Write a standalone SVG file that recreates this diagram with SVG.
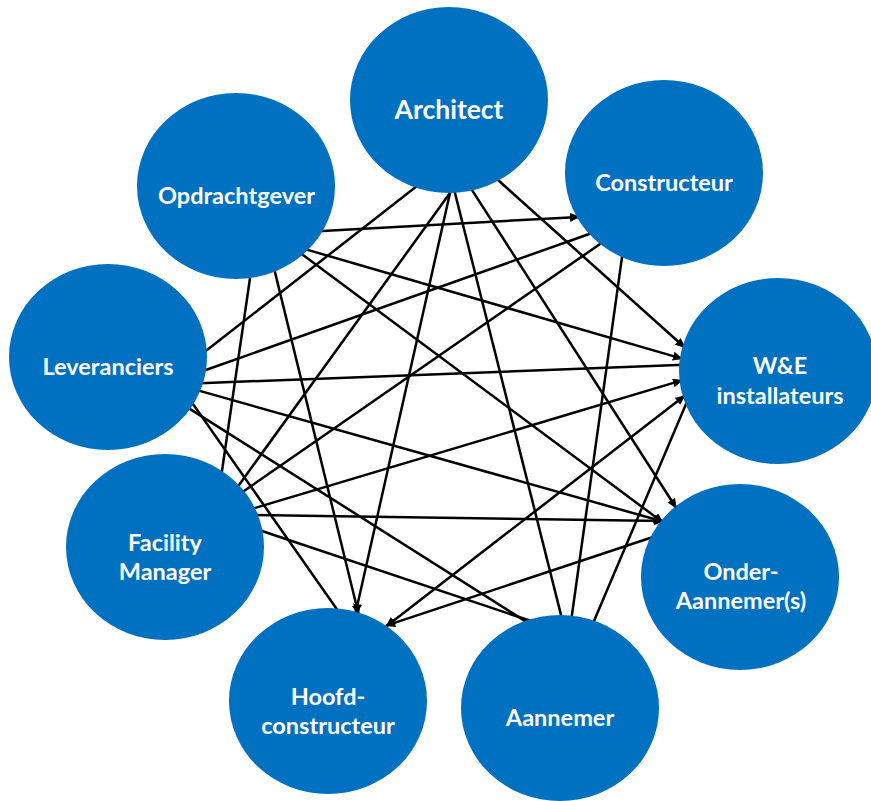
<svg xmlns="http://www.w3.org/2000/svg" width="871" height="801" viewBox="0 0 871 801">
<style>
.n{fill:#0070C0}
.t{fill:#fff;font-family:Lato,"Liberation Sans",sans-serif;font-weight:700;font-size:23.5px;text-anchor:middle}
.e{stroke:#000;stroke-width:2.5;fill:none}
.a{marker-end:url(#ah)}
</style>
<defs>
<marker id="ah" markerUnits="userSpaceOnUse" viewBox="0 0 10 9" markerWidth="10" markerHeight="9" refX="9" refY="4.5" orient="auto-start-reverse">
<path d="M0,0 L10,4.5 L0,9 z" fill="#000"/>
</marker>
</defs>
<rect width="871" height="801" fill="#fff"/>
<g id="connectors">
<line class="e" x1="420.2" y1="183.5" x2="203.8" y2="352.5"/>
<line class="e" x1="452.3" y1="189.8" x2="236.7" y2="488.2"/>
<line class="e a" x1="450.9" y1="189.1" x2="355.6" y2="613"/>
<line class="e" x1="454" y1="189.1" x2="562" y2="618.9"/>
<line class="e a" x1="469.8" y1="186.6" x2="676.1" y2="507.7"/>
<line class="e a" x1="495" y1="177.3" x2="684.5" y2="347.3"/>
<line class="e a" x1="318" y1="231.2" x2="579" y2="216.9"/>
<line class="e a" x1="304.2" y1="248.9" x2="681.9" y2="358.6"/>
<line class="e a" x1="299.8" y1="252.6" x2="662.6" y2="522.2"/>
<line class="e a" x1="274" y1="268.1" x2="358.5" y2="614"/>
<line class="e" x1="250.6" y1="274" x2="221.4" y2="475"/>
<line class="e" x1="592.8" y1="232.7" x2="202.2" y2="371.3"/>
<line class="e" x1="603.3" y1="241.7" x2="240.7" y2="493.3"/>
<line class="e" x1="622.6" y1="253" x2="571.4" y2="619"/>
<line class="e" x1="200" y1="383.2" x2="684" y2="364.8"/>
<line class="e a" x1="196.2" y1="389.9" x2="662.9" y2="521.5"/>
<line class="e" x1="190.7" y1="400.7" x2="338.3" y2="611.3"/>
<line class="e" x1="186.6" y1="406.9" x2="528.4" y2="623.1"/>
<line class="e a" x1="251.2" y1="509.1" x2="681.9" y2="380.4"/>
<line class="e a" x1="254" y1="514.9" x2="663" y2="521"/>
<line class="e" x1="258.2" y1="529.7" x2="531.8" y2="621.3"/>
<line class="e a" x1="684.6" y1="395.8" x2="386.4" y2="626.2" marker-start="url(#ah)"/>
<line class="e" x1="687.6" y1="400.3" x2="592.4" y2="624.7"/>
<line class="e a" x1="653.8" y1="536.7" x2="386.1" y2="625.6"/>
</g>
<g id="architect"><ellipse class="n" cx="449" cy="100" rx="99" ry="93"/><text class="t" x="449" y="119" style="font-size:26.5px">Architect</text></g>
<g id="constructeur"><ellipse class="n" cx="664" cy="173" rx="99" ry="93"/><text class="t" x="664" y="190.5">Constructeur</text></g>
<g id="we-installateurs"><ellipse class="n" cx="778" cy="371" rx="99" ry="93"/><text class="t" x="780" y="374">W&amp;E</text><text class="t" x="780" y="403.5">installateurs</text></g>
<g id="onder-aannemers"><ellipse class="n" cx="740" cy="577" rx="99" ry="93"/><text class="t" x="741" y="580">Onder-</text><text class="t" x="741" y="609">Aannemer(s)</text></g>
<g id="aannemer"><ellipse class="n" cx="560" cy="708" rx="99" ry="93"/><text class="t" x="560" y="726">Aannemer</text></g>
<g id="hoofdconstructeur"><ellipse class="n" cx="328" cy="701" rx="99" ry="93"/><text class="t" x="328" y="704.5">Hoofd-</text><text class="t" x="328" y="733.5">constructeur</text></g>
<g id="facility-manager"><ellipse class="n" cx="165" cy="547" rx="99" ry="93"/><text class="t" x="165" y="550.5">Facility</text><text class="t" x="165" y="580">Manager</text></g>
<g id="leveranciers"><ellipse class="n" cx="108" cy="357" rx="99" ry="93"/><text class="t" x="108" y="374.5">Leveranciers</text></g>
<g id="opdrachtgever"><ellipse class="n" cx="236" cy="186" rx="99" ry="93"/><text class="t" x="236.5" y="204">Opdrachtgever</text></g>
</svg>
